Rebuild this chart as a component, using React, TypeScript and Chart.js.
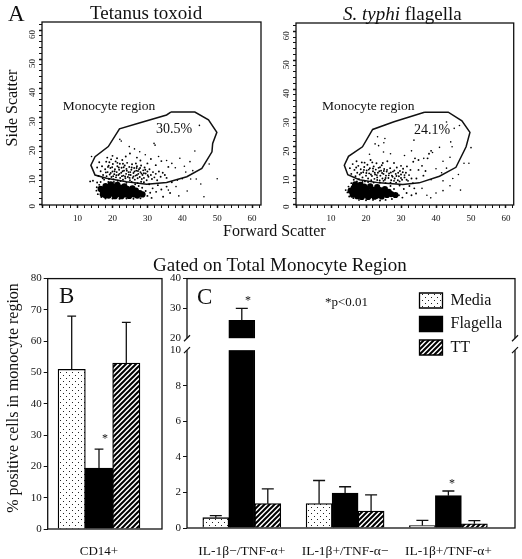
import React, { useEffect, useRef } from "react";
import { Chart, LinearScale, registerables } from "chart.js";

const SERIF = "'Liberation Serif', serif";

// ---- Panel A data (forward scatter, side scatter) ----
const gateTetanus = [[36.7,31.7],[43.6,31.7],[47.5,29],[49.9,24.7],[48.7,20.9],[48.5,18],[45.6,12.3],[41.3,9.4],[35.5,7.4],[29.8,6.8],[24,7.7],[18.3,8.9],[15,10],[13.8,13.4],[15,16.3],[18.8,19.8],[22,25.9],[27.9,28],[35.5,30.7],[36.7,31.7]];
const gateTyphi = [[36.7,32],[43.5,32],[47.4,29],[49.7,25],[48.6,20],[45.7,12.9],[41,9.8],[35.2,7.5],[30.5,6.9],[23.8,7.5],[18.1,8.6],[14.8,10.3],[13.8,13.6],[15,16.7],[19,20],[21.9,26],[28,28.7],[36.7,32]];

const coreTetanus = [[17.2,3.4],[17.6,5],[18,6.2],[18.4,4.1],[18.9,2.9],[19.2,5.3],[19.5,6.8],[19.9,3.7],[20.3,6.1],[20.7,2.7],[21,4.8],[21.4,6.6],[21.8,3.5],[22.2,5.7],[22.6,2.7],[23,4.5],[23.4,6.1],[23.9,3.3],[24.2,5.2],[24.8,2.8],[25.2,4.2],[25.7,5.4],[26.2,3.3],[26.7,4.6],[27.1,2.9],[27.8,3.8],[19,4.3],[20,5],[21,3.4],[22,4.4],[23,3.4],[24,4.3],[25,3.4],[18,3],[20.4,3.6],[22.6,5],[17.2,4.4],[16.6,5.2],[28.6,3.3]];
const cloudTetanus = [[16,9.7],[16.6,11.3],[17,13],[17.3,10],[17.6,8.4],[17.9,12],[18.2,14.6],[18.3,9.6],[18.6,11],[18.9,13.2],[19,8.6],[19.2,10.2],[19.4,12.4],[19.6,15.4],[19.7,9.3],[20,11.2],[20.1,13.8],[20.3,8.5],[20.5,10.3],[20.7,12],[20.9,14.7],[21,9.2],[21.2,11],[21.4,13],[21.5,8],[21.7,10],[21.9,11.8],[22.1,13.9],[22.2,9],[22.5,10.8],[22.6,12.5],[22.8,15.2],[23,8.4],[23.1,9.8],[23.3,11.5],[23.5,13.3],[23.7,8.9],[23.9,10.4],[24,12.1],[24.2,14.2],[24.4,9.3],[24.6,11],[24.8,12.8],[25,8.2],[25.2,10],[25.4,11.8],[25.6,13.7],[25.8,9],[26,10.7],[26.2,12.4],[26.4,8.4],[26.6,9.8],[26.8,11.5],[27,13],[27.2,8.9],[27.4,10.4],[27.6,12],[27.8,9.3],[28,11],[28.2,13.3],[28.4,8.6],[28.6,10],[28.8,11.6],[29,9],[29.2,12.6],[29.5,10.5],[29.8,8.2],[30,11.2],[30.3,9.4],[30.6,12],[31,10],[31.3,8.6],[31.6,11],[32,9.2],[32.4,10.4],[32.8,8.2],[33.3,11.2],[33.8,9.4],[34.4,10.8],[35,10],[35.5,9],[16.2,14.4],[15.6,12.6],[18.5,16],[20,16.6],[21.3,15.8],[23.8,16.4],[25,17.4],[27,16],[28,15],[30,14],[31,15.5],[32.4,13.4],[34,14.8],[36,12.8],[16.6,7.6],[15.6,7.4],[14.4,8],[13.6,7.8],[29,7.5],[30.5,6.8],[31.5,5.4],[32.5,4.2],[33,6.5],[34,5],[34.5,2.5],[35.5,6],[36.5,3.8],[37,7.5],[29.5,4.5],[30,2.8],[30.8,3.9],[31.2,2.1],[28.5,5.6],[27.5,6.2],[26.5,6.8],[28,2],[26,1.8],[24,1.9],[22,1.8],[20,1.9],[18,1.9],[16.8,2.4],[15.8,3.4],[15.4,4.6],[15.5,5.8],[16.2,6.6],
  [18.1,10.9],[18.7,12.8],[19.5,10.7],[19.9,12.7],[20.6,11.3],[21.1,9.9],[21.8,12.6],[22,10.4],[22.9,11.3],[23.2,12.7],[23.6,9.5],[24.1,11.5],[24.7,10.1],[25.1,11],[25.5,12.6],[26,9.5],[26.3,11.2],[27,10],[27.3,11.4],[27.9,12.4],[28.3,10.5],[29,10.6],[29.4,11.8],[30.1,9.9],[17.2,8.9],[18.8,7.6],[20.4,7.6],[22.3,7.9],[24,7.3],[25.5,7.6],[27.2,7.2],[28.2,7.7],[22.7,9.6],[20.2,9.6],[24.9,9],[26.9,12.4],[19.1,14.4],[21.4,14.2],[23,13.9],[26.7,14]];
const sparseTetanus = [[22.1,22.3],[22.5,21.7],[31.9,20.9],[32.2,20.3],[26.3,19],[44.9,27.1],[43.6,18.3],[47.7,13.8],[50,8.7],[46.2,2.5],[45.3,6.9],[39.3,15.8],[42.2,14.6],[40.6,13],[38,12.5],[37,14],[35.5,15],[33.2,16.4],[41,11],[43,11.5],[42.4,8.6],[40,8.7],[38.6,8.2],[38.2,6],[36,4.8],[39,2.8],[41.4,4.5],[44,8.6],[29.4,17],[24.8,19.8],[27.8,18],[14,16.4]];

const coreTyphi = [[15.6,4.8],[16.2,3.4],[16.5,5.8],[16.9,7],[17,4.4],[17.5,2.9],[17.8,5.6],[18.2,3.9],[18.4,6.8],[18.8,2.6],[19.1,4.9],[19.5,6.2],[19.9,3.4],[20.2,5.3],[20.6,2.6],[20.9,4.2],[21.2,6.3],[21.7,3.3],[22,5.1],[22.4,2.7],[22.8,4.2],[23.2,6],[23.6,3.3],[24,5],[24.5,2.8],[25,4],[25.4,5.3],[26,3.3],[26.5,4.4],[27.2,3.6],[18,4.9],[19,3.6],[20,4.6],[21,3.2],[22,3.9],[23,3],[24,3.9],[17,5.2],[28.4,3.3]];
const cloudTyphi = [[15.4,12.6],[15.8,10.6],[16.2,14],[16.5,8.6],[16.7,12],[17,9.8],[17.3,15],[17.5,11],[17.8,13.4],[18,8.8],[18.2,10.4],[18.5,12.2],[18.8,14.6],[19,9.4],[19.2,11.2],[19.5,13],[19.7,8],[20,10],[20.2,11.8],[20.4,13.8],[20.6,9],[20.9,10.8],[21.1,12.6],[21.3,15.4],[21.5,8.4],[21.7,9.9],[22,11.5],[22.2,13.2],[22.4,8.9],[22.6,10.4],[22.8,12.1],[23,14.3],[23.2,9.4],[23.4,11],[23.6,12.7],[23.9,8.3],[24.1,10],[24.3,11.7],[24.5,13.6],[24.7,9],[25,10.6],[25.2,12.3],[25.4,8.6],[25.7,10],[25.9,11.4],[26.1,15],[26.4,9.2],[26.6,10.8],[26.9,12.6],[27.2,8.4],[27.4,10],[27.7,11.4],[28,14.4],[28.2,9],[28.5,10.6],[28.8,12.8],[29.1,8.4],[29.4,9.8],[29.7,11.6],[30,10.4],[30.3,8.6],[30.6,12.4],[31,9.4],[31.4,11],[31.7,13.2],[32,8.2],[32.3,10.2],[32.7,12],[33,9],[33.5,14.8],[34,16],[35,15.4],[36,13.4],[37,11.6],[38,17.6],[38.6,18.6],[37.6,16],[36.4,10],[35,12],[34.4,9],[33.4,7.4],[28.6,7.6],[29.6,6.6],[30.8,5.4],[31.6,4],[32.4,6.4],[33,3.2],[33.8,5.6],[34.3,3.8],[28,5.4],[27,6.4],[29.4,3.2],[30.4,2.4],[27.4,1.9],[25.6,1.6],[24,1.4],[22,1.6],[20,1.5],[18,1.6],[16.4,2.2],[15.2,2.8],[14.7,4.2],[14.2,5],[15,6.2],[15.8,7.4],
  [18.6,10.9],[19.4,12],[20.1,10.9],[20.8,12.1],[21.4,10.4],[22,12.5],[22.5,11],[23.1,10.2],[23.8,11.5],[24,12.9],[24.6,10.9],[25.1,11.6],[25.6,9.2],[26,12],[26.5,10.1],[27.1,11.1],[27.6,9.6],[28.1,11.8],[28.7,9.9],[29.2,11],[30,9.2],[30.5,11.2],[31,10.2],[17.2,12.8],[19.6,14.5],[21.8,14.6],[24.8,14.4],[17.4,8],[19,7.8],[20.6,7.8],[22.2,7.6],[24,7.6],[25.6,7.4],[27,7.6],[23.2,8.5],[25,8.2],[28,8.2],[29.6,8],[31.6,8.6],[30,13.4]];
const sparseTyphi = [[23.3,23.5],[25.4,22.9],[25.1,21.4],[22.6,21],[23.6,20.4],[33.7,22.3],[44.2,21.7],[44.6,20],[50,19.7],[48,14.3],[49.4,14.3],[47,5],[45.2,26.4],[43,28.6],[46.7,27.4],[41,19.8],[39,18],[36.5,16],[42,15],[44,16.4],[43,12.6],[40,12.4],[41.6,11],[38.6,8.6],[42,8.2],[44,6.5],[42,4.8],[40,4],[38.5,2.3],[36,5.6],[37.4,3.2],[44.8,9],[46.4,10.4],[27,17.6],[25,18.2],[21,17.4],[33,18.6],[31,17]];

// ---- Panel B data ----
const bCategory = "CD14+";
const bMedia = [51];
const bFlagella = [19.5];
const bTT = [53];
const bMediaErr = [68];
const bFlagellaErr = [25.5];
const bTTErr = [66];
const bTicks = [0, 10, 20, 30, 40, 50, 60, 70, 80];

// ---- Panel C data ----
const cCategories = ["IL-1\u03b2\u2212/TNF-\u03b1+", "IL-1\u03b2+/TNF-\u03b1\u2212", "IL-1\u03b2+/TNF-\u03b1+"];
const cMedia = [0.58, 1.37, 0.14];
const cFlagella = [26, 1.96, 1.82];
const cTT = [1.37, 0.95, 0.24];
const cMediaErr = [0.7, 2.67, 0.43];
const cFlagellaErr = [30, 2.32, 2.08];
const cTTErr = [2.2, 1.86, 0.42];
const cTicks = [0, 2, 4, 6, 8, 10, 20, 30, 40];

// Piecewise scale for the broken axis in panel C.
const BREAK_LOW = 10;
const BREAK_HIGH = 20;
const LOW_SHARE = 0.7131;
const HIGH_START = 0.761;
class BrokenScale extends LinearScale {
  static id = "broken";
  static defaults = {};
  getPixelForValue(value: number) {
    const max = (this as any).max;
    let d;
    if (value <= BREAK_LOW) d = (value / BREAK_LOW) * LOW_SHARE;
    else if (value >= BREAK_HIGH) d = HIGH_START + ((value - BREAK_HIGH) / (max - BREAK_HIGH)) * (1 - HIGH_START);
    else d = LOW_SHARE + ((value - BREAK_LOW) / (BREAK_HIGH - BREAK_LOW)) * (HIGH_START - LOW_SHARE);
    return (this as any).getPixelForDecimal(d);
  }
}
Chart.register(...registerables, BrokenScale);

function dotPattern() {
  const c = document.createElement("canvas");
  c.width = 6; c.height = 6;
  const x = c.getContext("2d")!;
  x.fillStyle = "#fff"; x.fillRect(0, 0, 6, 6);
  x.fillStyle = "#222";
  x.fillRect(0, 0, 1, 1); x.fillRect(3, 3, 1, 1);
  return x.createPattern(c, "repeat")!;
}
function hatchPattern() {
  const c = document.createElement("canvas");
  c.width = 5; c.height = 5;
  const x = c.getContext("2d")!;
  x.fillStyle = "#fff"; x.fillRect(0, 0, 5, 5);
  x.strokeStyle = "#000"; x.lineWidth = 2;
  x.beginPath();
  x.moveTo(-1, 1); x.lineTo(1, -1);
  x.moveTo(-1, 6); x.lineTo(6, -1);
  x.moveTo(4, 6); x.lineTo(6, 4);
  x.stroke();
  return x.createPattern(c, "repeat")!;
}

const framePlugin = {
  id: "frame",
  afterDraw(chart: any) {
    const { ctx, chartArea: a } = chart;
    ctx.save();
    ctx.strokeStyle = "#111";
    ctx.lineWidth = 1.3;
    ctx.strokeRect(a.left, a.top, a.right - a.left, a.bottom - a.top);
    ctx.restore();
  },
};

const errorPlugin = {
  id: "errorBars",
  afterDatasetsDraw(chart: any) {
    const { ctx, scales } = chart;
    const cap = chart.options.plugins.errorBars?.cap ?? 4;
    ctx.save();
    ctx.strokeStyle = "#111";
    ctx.lineWidth = 1.3;
    chart.data.datasets.forEach((ds: any, i: number) => {
      chart.getDatasetMeta(i).data.forEach((bar: any, j: number) => {
        const top = scales.y.getPixelForValue(ds.errTop[j]);
        ctx.beginPath();
        ctx.moveTo(bar.x, bar.y);
        ctx.lineTo(bar.x, top);
        ctx.moveTo(bar.x - cap, top);
        ctx.lineTo(bar.x + cap, top);
        ctx.stroke();
      });
    });
    ctx.restore();
  },
};

const breakPlugin = {
  id: "axisBreak",
  afterDraw(chart: any) {
    const { ctx, chartArea: a, scales, legend } = chart;
    const y1 = scales.y.getPixelForValue(BREAK_HIGH);
    const y0 = scales.y.getPixelForValue(BREAK_LOW);
    ctx.save();
    ctx.fillStyle = "#fff";
    ctx.fillRect(a.left - 2, y1, legend.left - a.left, y0 - y1);
    ctx.fillRect(a.right - 2, y1, 4, y0 - y1);
    ctx.strokeStyle = "#111";
    ctx.lineWidth = 1.2;
    for (const x of [a.left, a.right]) {
      for (const y of [y1, y0]) {
        ctx.beginPath();
        ctx.moveTo(x - 3, y + 3);
        ctx.lineTo(x + 3, y - 3);
        ctx.stroke();
      }
    }
    ctx.restore();
  },
};

const legendPlacePlugin = {
  id: "legendPlace",
  afterLayout(chart: any) {
    const l = chart.legend;
    l.left = 248;
    l.top = 15;
    l.right = 350;
    l.bottom = 110;
  },
};

function scatterConfig(gate: number[][], core: number[][], cloud: number[][], sparse: number[][], leftW: number, rightPad: number, xMin: number, xMax: number, yMin: number, yMax: number): any {
  const dot = (data: number[][], r: number) => ({
    type: "scatter",
    data: data.map(([x, y]) => ({ x, y })),
    pointRadius: r,
    pointBackgroundColor: "#000",
    pointBorderWidth: 0,
    showLine: false,
  });
  return {
    type: "scatter",
    data: {
      datasets: [
        dot(core, 3.1),
        dot(cloud, 0.95),
        dot(sparse, 0.8),
        {
          type: "scatter",
          data: gate.map(([x, y]) => ({ x, y })),
          showLine: true,
          borderColor: "#111",
          borderWidth: 1.5,
          pointRadius: 0,
          fill: false,
        },
      ],
    },
    options: {
      responsive: false,
      animation: false,
      layout: { padding: { top: 7, right: rightPad } },
      plugins: { legend: { display: false }, tooltip: { enabled: false } },
      scales: {
        x: {
          type: "linear",
          min: xMin,
          max: xMax,
          afterFit: (s: any) => { s.height = 30; s.paddingLeft = 0; s.paddingRight = 0; },
          border: { display: false },
          grid: { drawOnChartArea: false, tickLength: 3, tickColor: "#111", tickWidth: (c: any) => (c.tick?.value % 10 === 0 ? 1.5 : 1) },
          ticks: {
            stepSize: 2, autoSkip: false, includeBounds: false, maxRotation: 0, minRotation: 0, padding: 5, color: "#111",
            font: { family: SERIF, size: 9 },
            callback: (v: number) => (v % 10 === 0 && v !== 0 ? String(v) : ""),
          },
        },
        y: {
          type: "linear",
          min: yMin,
          max: yMax,
          afterFit: (s: any) => { s.width = leftW; s.paddingTop = 0; s.paddingBottom = 0; },
          border: { display: false },
          grid: { drawOnChartArea: false, tickLength: 3, tickColor: "#111", tickWidth: (c: any) => (c.tick?.value % 10 === 0 ? 1.5 : 1) },
          ticks: {
            stepSize: 2, autoSkip: false, includeBounds: false, minRotation: 90, maxRotation: 90, padding: 6, color: "#111",
            font: { family: SERIF, size: 9 },
            callback: (v: number) => (v % 10 === 0 ? String(v) : ""),
          },
        },
      },
    },
    plugins: [framePlugin],
  };
}

function barConfigB(): any {
  const ds = (label: string, data: number[], errTop: number[], bg: any) => ({
    label,
    data: data.map((y) => ({ x: 1, y })),
    errTop,
    backgroundColor: bg,
    borderColor: "#000",
    borderWidth: 1.3,
    barThickness: 27.3,
  });
  return {
    type: "bar",
    data: {
      datasets: [
        ds("Media", bMedia, bMediaErr, dotPattern()),
        ds("Flagella", bFlagella, bFlagellaErr, "#000"),
        ds("TT", bTT, bTTErr, hatchPattern()),
      ],
    },
    options: {
      responsive: false,
      animation: false,
      layout: { padding: { top: 7, right: 6 } },
      plugins: { legend: { display: false }, tooltip: { enabled: false }, errorBars: { cap: 4.4 } },
      scales: {
        x: {
          type: "linear",
          offset: false,
          min: 0.487,
          max: 1.63,
          afterFit: (s: any) => { s.height = 30; },
          afterBuildTicks: (s: any) => { s.ticks = [{ value: 1 }]; },
          border: { display: false },
          grid: { display: false },
          ticks: { padding: 7, color: "#111", maxRotation: 0, font: { family: SERIF, size: 13 }, callback: () => bCategory },
        },
        y: {
          type: "linear",
          min: 0,
          max: 80,
          afterFit: (s: any) => { s.width = 47.7; },
          afterBuildTicks: (s: any) => { s.ticks = bTicks.map((value) => ({ value })); },
          border: { display: false },
          grid: { drawOnChartArea: false, tickLength: 4, tickColor: "#111" },
          ticks: { padding: 2, autoSkip: false, color: "#111", font: { family: SERIF, size: 11 } },
        },
      },
    },
    plugins: [errorPlugin, framePlugin],
  };
}

function barConfigC(): any {
  const ds = (label: string, data: number[], errTop: number[], bg: any) => ({
    label,
    data: data.map((y, i) => ({ x: i + 1, y })),
    errTop,
    backgroundColor: bg,
    borderColor: "#000",
    borderWidth: 1.3,
    barThickness: 26,
  });
  return {
    type: "bar",
    data: {
      datasets: [
        ds("Media", cMedia, cMediaErr, dotPattern()),
        ds("Flagella", cFlagella, cFlagellaErr, "#000"),
        ds("TT", cTT, cTTErr, hatchPattern()),
      ],
    },
    options: {
      responsive: false,
      animation: false,
      layout: { padding: { top: 7, right: 7 } },
      plugins: {
        tooltip: { enabled: false },
        errorBars: { cap: 6 },
        legend: {
          display: true,
          position: "chartArea",
          align: "start",
          labels: { boxWidth: 23, boxHeight: 15, padding: 7.5, color: "#111", font: { family: SERIF, size: 16 } },
        },
      },
      scales: {
        x: {
          type: "linear",
          offset: false,
          min: 0.4695,
          max: 3.645,
          afterFit: (s: any) => { s.height = 31; },
          afterBuildTicks: (s: any) => { s.ticks = cCategories.map((_, i) => ({ value: i + 1 })); },
          border: { display: false },
          grid: { display: false },
          ticks: { padding: 7, autoSkip: false, color: "#111", maxRotation: 0, font: { family: SERIF, size: 13.5 }, callback: (v: number) => cCategories[v - 1] },
        },
        y: {
          type: "broken",
          min: 0,
          max: 40,
          afterFit: (s: any) => { s.width = 23; },
          afterBuildTicks: (s: any) => { s.ticks = cTicks.map((value) => ({ value })); },
          border: { display: false },
          grid: { drawOnChartArea: false, tickLength: 4, tickColor: (c: any) => (c.tick?.value === 10 || c.tick?.value === 20 ? "rgba(0,0,0,0)" : "#111") },
          ticks: { padding: 2, autoSkip: false, color: "#111", font: { family: SERIF, size: 11 } },
        },
      },
    },
    plugins: [framePlugin, breakPlugin, errorPlugin, legendPlacePlugin],
  };
}

function ChartCanvas({ left, top, width, height, make }: { left: number; top: number; width: number; height: number; make: () => any }) {
  const ref = useRef<HTMLCanvasElement>(null);
  useEffect(() => {
    const chart = new Chart(ref.current!, make());
    return () => chart.destroy();
  }, []);
  return <canvas ref={ref} width={width} height={height} style={{ position: "absolute", left, top, width, height }} />;
}

function Label({ left, cy, size, children }: { left: number; cy: number; size: number; children: React.ReactNode }) {
  return (
    <div style={{ position: "absolute", left, top: cy, transform: "translateY(-50%)", fontFamily: SERIF, fontSize: size, color: "#111", lineHeight: 1, whiteSpace: "nowrap" }}>
      {children}
    </div>
  );
}

function VLabel({ cx, cy, size, children }: { cx: number; cy: number; size: number; children: React.ReactNode }) {
  return (
    <div style={{ position: "absolute", left: cx, top: cy, transform: "translate(-50%, -50%) rotate(-90deg)", fontFamily: SERIF, fontSize: size, color: "#111", lineHeight: 1, whiteSpace: "nowrap" }}>
      {children}
    </div>
  );
}

export default function App() {
  return (
    <div style={{ position: "absolute", left: 0, top: 0, width: 522, height: 559, background: "#fff", overflow: "hidden" }}>
      <ChartCanvas left={0} top={15} width={270} height={220} make={() => scatterConfig(gateTetanus, coreTetanus, cloudTetanus, sparseTetanus, 42, 9, -0.2, 62.55, -0.34, 62.76)} />
      <ChartCanvas left={270} top={16} width={252} height={219} make={() => scatterConfig(gateTyphi, coreTyphi, cloudTyphi, sparseTyphi, 26, 8.3, 0, 62.2, -0.17, 62.9)} />
      <ChartCanvas left={0} top={270} width={168} height={289} make={barConfigB} />
      <ChartCanvas left={164} top={270} width={358} height={289} make={barConfigC} />
      <VLabel cx={12} cy={107.5} size={16}>Side Scatter</VLabel>
      <VLabel cx={13} cy={397.5} size={16}>% positive cells in monocyte region</VLabel>
      <Label left={8} cy={13} size={23}>A</Label>
      <Label left={90} cy={12} size={19}>Tetanus toxoid</Label>
      <Label left={343} cy={13} size={19}><i>S. typhi</i> flagella</Label>
      <Label left={223} cy={231} size={16}>Forward Scatter</Label>
      <Label left={62.7} cy={106} size={13.5}>Monocyte region</Label>
      <Label left={156} cy={129} size={14}>30.5%</Label>
      <Label left={322} cy={106} size={13.5}>Monocyte region</Label>
      <Label left={414} cy={130} size={14}>24.1%</Label>
      <Label left={153} cy={264} size={19}>Gated on Total Monocyte Region</Label>
      <Label left={59} cy={295} size={23}>B</Label>
      <Label left={197} cy={296} size={23}>C</Label>
      <Label left={102} cy={438} size={12}>*</Label>
      <Label left={245} cy={300} size={12}>*</Label>
      <Label left={449} cy={483} size={12}>*</Label>
      <Label left={325} cy={301} size={13}>*p&lt;0.01</Label>
    </div>
  );
}
